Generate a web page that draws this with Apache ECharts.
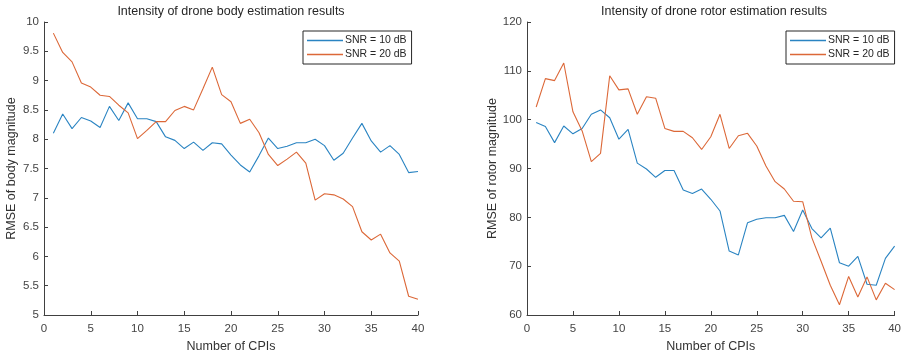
<!DOCTYPE html>
<html>
<head>
<meta charset="utf-8">
<script src="https://cdn.jsdelivr.net/npm/echarts@6/dist/echarts.min.js"></script>
<style>
html,body{margin:0;padding:0;background:#fff;}
#c{width:904px;height:358px;}
</style>
</head>
<body>
<div id="c"></div>
<script>
const cpis = Array.from({length: 40}, (_, i) => i + 1);
const seriesNames = ['SNR = 10 dB', 'SNR = 20 dB'];
const bodySnr10 = [8.10,8.43,8.18,8.37,8.31,8.20,8.56,8.32,8.62,8.35,8.35,8.30,8.04,7.98,7.84,7.95,7.81,7.94,7.92,7.73,7.56,7.44,7.72,8.02,7.84,7.88,7.94,7.94,8.00,7.89,7.64,7.76,8.02,8.27,7.97,7.78,7.89,7.74,7.43,7.45];
const bodySnr20 = [9.81,9.48,9.32,8.96,8.89,8.75,8.73,8.58,8.45,8.01,8.15,8.30,8.30,8.49,8.56,8.50,8.86,9.23,8.76,8.64,8.27,8.34,8.11,7.74,7.55,7.66,7.78,7.59,6.96,7.07,7.05,6.98,6.85,6.42,6.28,6.38,6.06,5.92,5.32,5.27];
const rotorSnr10 = [99.4,98.6,95.3,98.7,97.1,98.2,101.1,102.0,100.4,96.0,98.0,91.1,89.9,88.2,89.6,89.6,85.6,84.9,85.8,83.7,81.3,73.1,72.3,78.9,79.6,79.9,79.9,80.4,77.1,81.5,77.7,75.8,77.8,70.7,70.0,72.0,66.3,66.1,71.6,74.1];
const rotorSnr20 = [102.6,108.4,108.0,111.6,101.6,97.7,91.4,93.1,109.0,106.1,106.3,101.1,104.7,104.4,98.2,97.6,97.6,96.3,93.9,96.5,101.1,94.1,96.7,97.2,94.6,90.5,87.3,85.8,83.3,83.2,75.8,71.0,66.1,62.1,67.9,63.7,67.8,63.1,66.5,65.2];
const titles = ['Intensity of drone body estimation results', 'Intensity of drone rotor estimation results'];
const yNames = ['RMSE of body magnitude', 'RMSE of rotor magnitude'];
const xName = 'Number of CPIs';

const FONT = 'Liberation Sans, Arial, sans-serif';
const AX = '#404040';
const colors = ['#2a84c2', '#dc6838'];

function xAxis(gi) {
  return {
    type: 'value', gridIndex: gi, min: 0, max: 40, interval: 5,
    name: xName, nameLocation: 'middle', nameGap: 25,
    nameTextStyle: {fontFamily: FONT, fontSize: 12.5, color: '#333'},
    axisLine: {lineStyle: {color: AX, width: 1}},
    axisTick: {inside: true, length: 4, lineStyle: {color: AX}},
    axisLabel: {fontFamily: FONT, fontSize: 11.5, color: '#444', margin: 8},
    splitLine: {show: false}
  };
}
function yAxis(gi, min, max, interval, gap) {
  return {
    type: 'value', gridIndex: gi, min: min, max: max, interval: interval,
    name: yNames[gi], nameLocation: 'middle', nameGap: gap, nameRotate: 90,
    nameTextStyle: {fontFamily: FONT, fontSize: 12.5, color: '#333'},
    axisLine: {show: true, lineStyle: {color: AX, width: 1}},
    axisTick: {show: true, inside: true, length: 4, lineStyle: {color: AX}},
    axisLabel: {fontFamily: FONT, fontSize: 11.5, color: '#444', margin: 5},
    splitLine: {show: false}
  };
}
function mk(vals) { return cpis.map((x, i) => [x, vals[i]]); }
function line(name, gi, vals, ci) {
  return {
    name: name, type: 'line', xAxisIndex: gi, yAxisIndex: gi,
    data: mk(vals), symbol: 'none', showSymbol: false,
    lineStyle: {color: colors[ci], width: 1.1}, itemStyle: {color: colors[ci]},
    emphasis: {disabled: true}, animation: false
  };
}
function legend(left) {
  return {
    data: seriesNames, orient: 'vertical', left: left, top: 31,
    icon: 'rect',
    borderColor: '#262626', borderWidth: 1, padding: [4, 5, 4, 4],
    itemGap: 3, itemWidth: 36, itemHeight: 1.3,
    textStyle: {fontFamily: FONT, fontSize: 10.5, color: '#262626', padding: [0, 0, 0, -3]},
    backgroundColor: '#fff'
  };
}

const chart = echarts.init(document.getElementById('c'), null, {renderer: 'canvas'});
chart.setOption({
  animation: false,
  color: colors,
  title: [
    {text: titles[0], left: 231, top: 5, textAlign: 'center', padding: 0,
     textStyle: {fontFamily: FONT, fontSize: 12.5, fontWeight: 'normal', color: '#262626'}},
    {text: titles[1], left: 714, top: 5, textAlign: 'center', padding: 0,
     textStyle: {fontFamily: FONT, fontSize: 12.5, fontWeight: 'normal', color: '#262626'}}
  ],
  legend: [legend(303), legend(786)],
  grid: [
    {left: 44, right: 486, top: 22, bottom: 41},
    {left: 527, right: 3, top: 22, bottom: 41}
  ],
  xAxis: [xAxis(0), xAxis(1)],
  yAxis: [yAxis(0, 5, 10, 0.5, 26), yAxis(1, 60, 120, 10, 28)],
  series: [
    line(seriesNames[0], 0, bodySnr10, 0),
    line(seriesNames[1], 0, bodySnr20, 1),
    line(seriesNames[0], 1, rotorSnr10, 0),
    line(seriesNames[1], 1, rotorSnr20, 1)
  ]
});
</script>
</body>
</html>
